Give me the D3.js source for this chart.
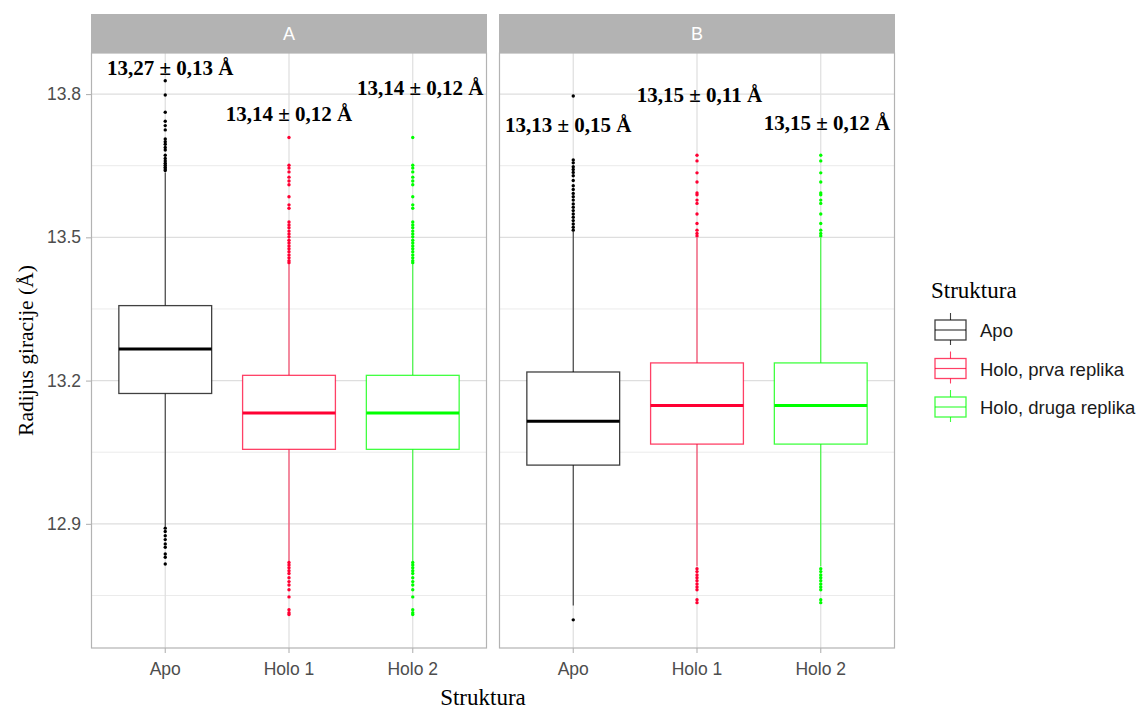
<!DOCTYPE html>
<html>
<head>
<meta charset="utf-8">
<script src="https://cdn.jsdelivr.net/npm/d3@7"></script>
<style>
  body { margin: 0; background: #ffffff; }
  svg { display: block; }
</style>
</head>
<body>
<svg id="chart" width="1144" height="709"></svg>
<script>
// ---------------- DATA ----------------
const facets = ["A", "B"];
const categories = ["Apo", "Holo 1", "Holo 2"];
const legendLabels = ["Apo", "Holo, prva replika", "Holo, druga replika"];
const yTicks = [12.9, 13.2, 13.5, 13.8];
const yMinorTicks = [12.75, 13.05, 13.35, 13.65];

// Panel A box statistics (Apo, Holo 1, Holo 2)
const q1A = [13.173, 13.056, 13.056];
const medianA = [13.266, 13.132, 13.132];
const q3A = [13.357, 13.211, 13.211];
const whiskerLowA = [12.894, 12.821, 12.821];
const whiskerHighA = [13.636, 13.446, 13.446];
const outliersA = [
  [13.828, 13.798, 13.762, 13.743, 13.734, 13.725, 13.706, 13.700, 13.695, 13.688, 13.683, 13.672, 13.665, 13.660, 13.655, 13.651, 13.647, 13.643, 13.640,
   12.891, 12.884, 12.875, 12.867, 12.858, 12.851, 12.837, 12.830, 12.816],
  [13.709, 13.651, 13.645, 13.637, 13.626, 13.618, 13.610, 13.585, 13.568, 13.561, 13.532, 13.526, 13.520, 13.513, 13.507, 13.501, 13.494, 13.488, 13.482, 13.476, 13.470, 13.463, 13.457, 13.451, 13.447,
   12.819, 12.814, 12.808, 12.802, 12.796, 12.787, 12.779, 12.772, 12.762, 12.747, 12.720, 12.714, 12.710],
  [13.709, 13.651, 13.645, 13.637, 13.626, 13.618, 13.610, 13.585, 13.568, 13.561, 13.532, 13.526, 13.520, 13.513, 13.507, 13.501, 13.494, 13.488, 13.482, 13.476, 13.470, 13.463, 13.457, 13.451, 13.447,
   12.819, 12.814, 12.808, 12.802, 12.796, 12.787, 12.779, 12.772, 12.762, 12.747, 12.720, 12.714, 12.710]
];

// Panel B box statistics (Apo, Holo 1, Holo 2)
const q1B = [13.023, 13.067, 13.067];
const medianB = [13.115, 13.148, 13.148];
const q3B = [13.218, 13.237, 13.237];
const whiskerLowB = [12.729, 12.811, 12.811];
const whiskerHighB = [13.512, 13.499, 13.499];
const outliersB = [
  [13.796, 13.662, 13.656, 13.648, 13.642, 13.636, 13.629, 13.619, 13.608, 13.600, 13.592, 13.585, 13.578, 13.570, 13.563, 13.556, 13.549, 13.542, 13.535, 13.528, 13.521, 13.515,
   12.699],
  [13.672, 13.660, 13.635, 13.616, 13.593, 13.589, 13.578, 13.571, 13.549, 13.529, 13.515, 13.508, 13.503,
   12.806, 12.800, 12.793, 12.787, 12.781, 12.774, 12.768, 12.762, 12.741, 12.735],
  [13.672, 13.660, 13.635, 13.616, 13.593, 13.589, 13.578, 13.571, 13.549, 13.529, 13.515, 13.508, 13.503,
   12.806, 12.800, 12.793, 12.787, 12.781, 12.774, 12.768, 12.762, 12.741, 12.735]
];

// Annotations (mean ± sd), positioned in data coordinates
const labelsA = ["13,27 ± 0,13 Å", "13,14 ± 0,12 Å", "13,14 ± 0,12 Å"];
const labelXA = [1.04, 2.0, 3.06];
const labelYA = [13.853, 13.756, 13.812];
const labelsB = ["13,13 ± 0,15 Å", "13,15 ± 0,11 Å", "13,15 ± 0,12 Å"];
const labelXB = [0.96, 2.02, 3.05];
const labelYB = [13.733, 13.797, 13.738];

// ---------------- STYLE / LAYOUT ----------------
const colors = ["#000000", "#FF0033", "#00FF00"];
const panelTop = 53, panelBottom = 648, stripTop = 14;
const panelX = [[91, 487], [499, 895]];
const sans = "'Liberation Sans', Arial, sans-serif";
const serif = "'Liberation Serif', 'Times New Roman', serif";

const svg = d3.select("#chart");
const y = d3.scaleLinear().domain([12.64, 13.886]).range([panelBottom, panelTop]);

const panels = [
  { name: facets[0], q1: q1A, med: medianA, q3: q3A, lo: whiskerLowA, hi: whiskerHighA, out: outliersA, labels: labelsA, lx: labelXA, ly: labelYA },
  { name: facets[1], q1: q1B, med: medianB, q3: q3B, lo: whiskerLowB, hi: whiskerHighB, out: outliersB, labels: labelsB, lx: labelXB, ly: labelYB }
];

panels.forEach((p, pi) => {
  const [x0, x1] = panelX[pi];
  const xb = d3.scaleBand().domain(categories).range([x0, x1]).paddingInner(0).paddingOuter(0.1);
  const xl = d3.scaleLinear().domain([0.4, 3.6]).range([x0, x1]);
  const cx = c => xb(c) + xb.bandwidth() / 2;
  const bw = xb.bandwidth() * 0.75;
  const g = svg.append("g");

  g.append("rect").attr("x", x0).attr("y", panelTop).attr("width", x1 - x0).attr("height", panelBottom - panelTop).attr("fill", "#fff");

  g.selectAll(".minor").data(yMinorTicks).enter().append("line")
    .attr("x1", x0).attr("x2", x1).attr("y1", d => y(d)).attr("y2", d => y(d))
    .attr("stroke", "#EBEBEB").attr("stroke-width", 1);
  g.selectAll(".major").data(yTicks).enter().append("line")
    .attr("x1", x0).attr("x2", x1).attr("y1", d => y(d)).attr("y2", d => y(d))
    .attr("stroke", "#DEDEDE").attr("stroke-width", 1.2);
  g.selectAll(".vgrid").data(categories).enter().append("line")
    .attr("x1", d => cx(d)).attr("x2", d => cx(d)).attr("y1", panelTop).attr("y2", panelBottom)
    .attr("stroke", "#DEDEDE").attr("stroke-width", 1.2);

  categories.forEach((c, i) => {
    const col = colors[i];
    const xc = cx(c);
    g.append("line").attr("x1", xc).attr("x2", xc).attr("y1", y(p.q3[i])).attr("y2", y(p.hi[i]))
      .attr("stroke", col).attr("stroke-width", 1.1).attr("opacity", 0.75);
    g.append("line").attr("x1", xc).attr("x2", xc).attr("y1", y(p.q1[i])).attr("y2", y(p.lo[i]))
      .attr("stroke", col).attr("stroke-width", 1.1).attr("opacity", 0.75);
    g.append("rect").attr("x", xc - bw / 2).attr("width", bw)
      .attr("y", y(p.q3[i])).attr("height", y(p.q1[i]) - y(p.q3[i]))
      .attr("fill", "#fff").attr("stroke", col).attr("stroke-width", 1.3).attr("stroke-opacity", 0.75);
    g.append("line").attr("x1", xc - bw / 2).attr("x2", xc + bw / 2)
      .attr("y1", y(p.med[i])).attr("y2", y(p.med[i]))
      .attr("stroke", col).attr("stroke-width", 3);
    g.selectAll(null).data(p.out[i]).enter().append("circle")
      .attr("cx", xc).attr("cy", d => y(d)).attr("r", 1.7).attr("fill", col);
  });

  p.labels.forEach((t, i) => {
    g.append("text").attr("x", xl(p.lx[i])).attr("y", y(p.ly[i])).attr("dy", "0.3em")
      .attr("text-anchor", "middle").attr("font-family", serif).attr("font-weight", "bold")
      .attr("font-size", "21px").attr("fill", "#000").text(t);
  });

  g.append("rect").attr("x", x0 + 0.5).attr("y", panelTop).attr("width", x1 - x0 - 1).attr("height", panelBottom - panelTop)
    .attr("fill", "none").attr("stroke", "#B3B3B3").attr("stroke-width", 1.2);

  g.append("rect").attr("x", x0).attr("y", stripTop).attr("width", x1 - x0).attr("height", panelTop - stripTop)
    .attr("fill", "#B3B3B3");
  g.append("text").attr("x", (x0 + x1) / 2).attr("y", (stripTop + panelTop) / 2).attr("dy", "0.36em")
    .attr("text-anchor", "middle").attr("font-family", sans).attr("font-size", "18px").attr("fill", "#fff").text(p.name);

  const xAxis = d3.axisBottom(xb).tickSize(5).tickPadding(9.5);
  const ax = g.append("g").attr("transform", `translate(0,${panelBottom})`).call(xAxis);
  ax.select(".domain").remove();
  ax.selectAll(".tick line").attr("stroke", "#B3B3B3").attr("stroke-width", 1.1);
  ax.selectAll(".tick text").attr("font-family", sans).attr("font-size", "17.5px").attr("fill", "#4D4D4D");

  if (pi === 0) {
    const yAxis = d3.axisLeft(y).tickValues(yTicks).tickFormat(d3.format(".1f")).tickSize(5).tickPadding(5);
    const ay = g.append("g").attr("transform", `translate(${x0},0)`).call(yAxis);
    ay.select(".domain").remove();
    ay.selectAll(".tick line").attr("stroke", "#B3B3B3").attr("stroke-width", 1.1);
    ay.selectAll(".tick text").attr("font-family", sans).attr("font-size", "17.5px").attr("fill", "#4D4D4D");
  }
});

// axis titles
svg.append("text").attr("x", 483).attr("y", 705)
  .attr("text-anchor", "middle").attr("font-family", serif).attr("font-size", "23px").attr("fill", "#000").text("Struktura");
svg.append("text").attr("transform", `translate(27,${(panelTop + panelBottom) / 2}) rotate(-90)`)
  .attr("text-anchor", "middle").attr("dy", "0.3em").attr("font-family", serif).attr("font-size", "21.5px").attr("fill", "#000").text("Radijus giracije (Å)");

// legend
const lg = svg.append("g");
lg.append("text").attr("x", 931).attr("y", 298).attr("font-family", serif).attr("font-size", "23px").attr("fill", "#000").text("Struktura");
legendLabels.forEach((t, i) => {
  const cy = 330 + i * 38.5;
  const kx = 935, kw = 31;
  lg.append("line").attr("x1", kx + kw / 2).attr("x2", kx + kw / 2).attr("y1", cy - 17).attr("y2", cy + 15)
    .attr("stroke", colors[i]).attr("stroke-width", 1.1).attr("opacity", 0.75);
  lg.append("rect").attr("x", kx).attr("y", cy - 10).attr("width", kw).attr("height", 20)
    .attr("fill", "#fff").attr("stroke", colors[i]).attr("stroke-width", 1.3).attr("stroke-opacity", 0.75);
  lg.append("line").attr("x1", kx).attr("x2", kx + kw).attr("y1", cy).attr("y2", cy)
    .attr("stroke", colors[i]).attr("stroke-width", 1.2).attr("opacity", 0.75);
  lg.append("text").attr("x", 980).attr("y", cy + 1).attr("dy", "0.35em")
    .attr("font-family", sans).attr("font-size", "18.5px").attr("fill", "#1A1A1A").text(t);
});
</script>
</body>
</html>
